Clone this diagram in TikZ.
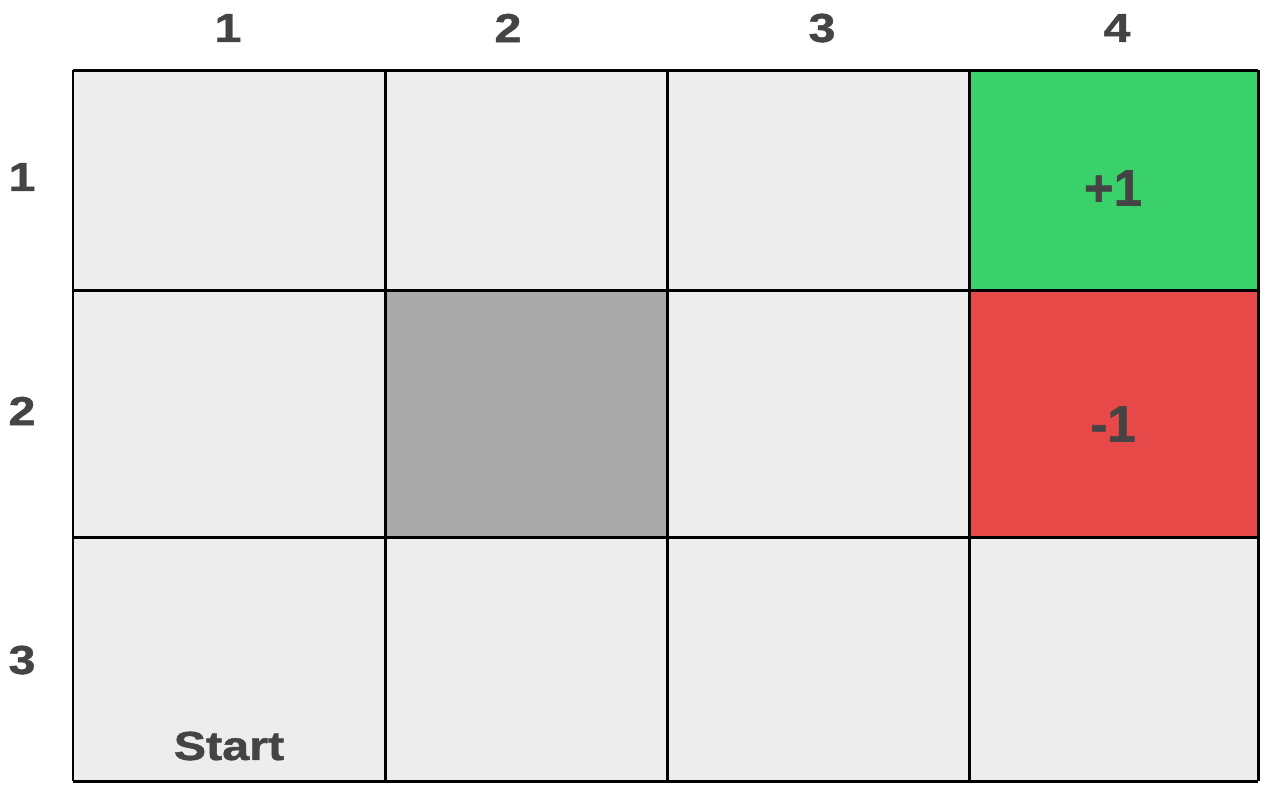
\documentclass[tikz,border=0pt]{standalone}
\usepackage{fontspec}
\setmainfont{Liberation Sans}
\newfontfamily\heavyfont[FakeStretch=1.2,FakeBold=1.2]{Liberation Sans}
\newfontfamily\rewardfont[FakeBold=1.2]{Liberation Sans}
\definecolor{cellbg}{HTML}{EDEDED}
\definecolor{wallbg}{HTML}{AAAAAA}
\definecolor{goalbg}{HTML}{3AD16A}
\definecolor{pitbg}{HTML}{E74848}
\definecolor{txtgray}{HTML}{444444}
\tikzset{
  gridline/.style={black, line width=1.7pt},
  idx/.style={text=txtgray, font=\heavyfont\bfseries\fontsize{23}{23}\selectfont},
  reward/.style={text=txtgray, font=\rewardfont\bfseries\fontsize{29}{29}\selectfont},
}

\begin{document}
\begin{tikzpicture}[x=0.02cm,y=-0.02cm]
  \useasboundingbox (0,0) rectangle (1266,792);
  % cells
  \fill [cellbg]  (73,70) rectangle (1258,781);
  \fill [wallbg]  (385,290) rectangle (667,537);
  \fill [goalbg]  (969,70) rectangle (1258,290);
  \fill [pitbg]   (969,290) rectangle (1258,537);
  % grid
  \foreach \x in {73,385,667,969,1258}
    \draw [gridline] (\x,70) -- (\x,781);
  \foreach \y in {70,290,537,781}
    \draw [gridline] (73,\y) -- (1258,\y);
  % column and row numbers
  \foreach \n/\x in {1/228,2/508,3/822,4/1117}
    \node [idx] (col\n) at (\x,28) {\n};
  \foreach \n/\y in {1/177,2/411,3/660}
    \node [idx] (row\n) at (22,\y) {\n};
  % rewards and start
  \node [reward] (goal) at (1113,188) {+1};
  \node [reward] (pit)  at (1113,424) {-1};
  \node [idx] (start) at (229,746) {Start};
\end{tikzpicture}
\end{document}
